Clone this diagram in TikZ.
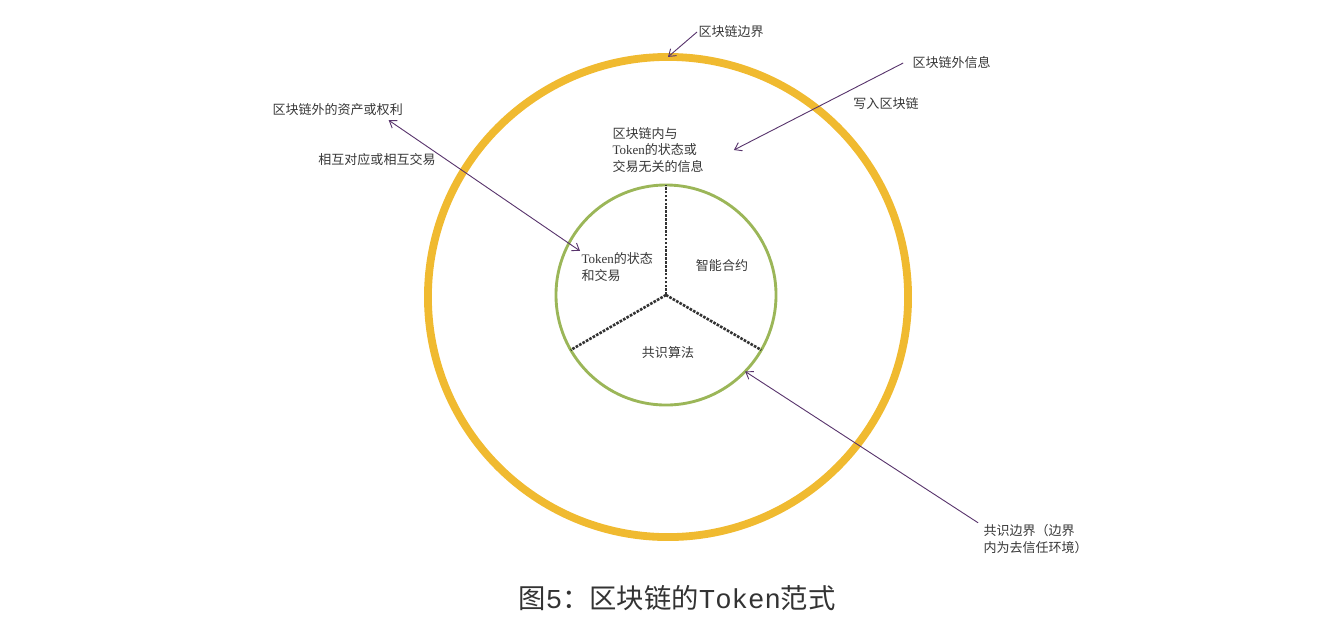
\documentclass[tikz,border=0pt]{standalone}
\usepackage{fontspec}
\setmainfont{Noto Sans CJK SC}
\newfontfamily\latserif{Liberation Serif}
\newfontfamily\latmono{Liberation Mono}
\usepackage{tikz}
\usetikzlibrary{arrows.meta, positioning}
\definecolor{chainyellow}{RGB}{240,186,48}
\definecolor{coregreen}{RGB}{155,182,88}
\definecolor{arrowpurple}{RGB}{88,52,108}
\definecolor{labelgray}{RGB}{55,55,55}

\begin{document}
\begin{tikzpicture}[
  x=0.027cm, y=-0.027cm,
  lbl/.style={font=\fontsize{10}{13}\selectfont, text=labelgray, inner sep=1pt, align=left},
  arrow/.style={-{Straight Barb[length=5pt, width=7pt]}, arrowpurple, line width=0.7pt},
  dblarrow/.style={{Straight Barb[length=5pt, width=7pt]}-{Straight Barb[length=5pt, width=7pt]}, arrowpurple, line width=0.7pt},
  spoke/.style={draw=black!80, line width=2pt, densely dotted},
]
  \useasboundingbox (0,0) rectangle (1334,638);

  % Boundaries
  \node[circle, draw=chainyellow, line width=6pt, outer sep=0pt, minimum size=12.96cm] (chain) at (668,297) {};
  \node[circle, draw=coregreen, line width=2.2pt, outer sep=0pt, minimum size=5.94cm] (core) at (666,295) {};

  % Core sectors
  \draw[spoke] (core.center) -- (core.north);
  \draw[spoke] (core.center) -- (core.210);
  \draw[spoke] (core.center) -- (core.330);

  \node[lbl, anchor=west] (tokenstate) at (580,267) {{\latserif Token}的状态\\和交易};
  \node[lbl] (contract) at (722,266) {智能合约};
  \node[lbl] (algo) at (668,353) {共识算法};

  % Labels
  \node[lbl, anchor=west] (border) at (697,32) {区块链边界};
  \node[lbl, anchor=west] (outinfo) at (911,63) {区块链外信息};
  \node[lbl] (write) at (886,104) {写入区块链};
  \node[lbl, anchor=west] (innerinfo) at (611,150) {区块链内与\\{\latserif Token}的状态或\\交易无关的信息};
  \node[lbl, anchor=west] (offchain) at (271,110) {区块链外的资产或权利};
  \node[lbl] (mutual) at (377,160) {相互对应或相互交易};
  \node[lbl, anchor=west] (boundary) at (982,539) {共识边界（边界\\内为去信任环境）};

  % Arrows
  \draw[arrow] (border.west) -- (chain.north);
  \draw[arrow] ([xshift=-6pt]outinfo.west) -- ([xshift=22pt]innerinfo.east);
  \draw[dblarrow] ([xshift=-12pt, yshift=-2pt]offchain.south east) -- (tokenstate.north west);
  \draw[arrow] ([xshift=-3pt]boundary.north west) -- (core.-44);

  % Caption
  \node[font=\fontsize{21}{25}\selectfont, text=black!80] (caption) at (677,598)
    {图{\latmono 5}：区块链的{\latmono Token}范式};
\end{tikzpicture}
\end{document}
